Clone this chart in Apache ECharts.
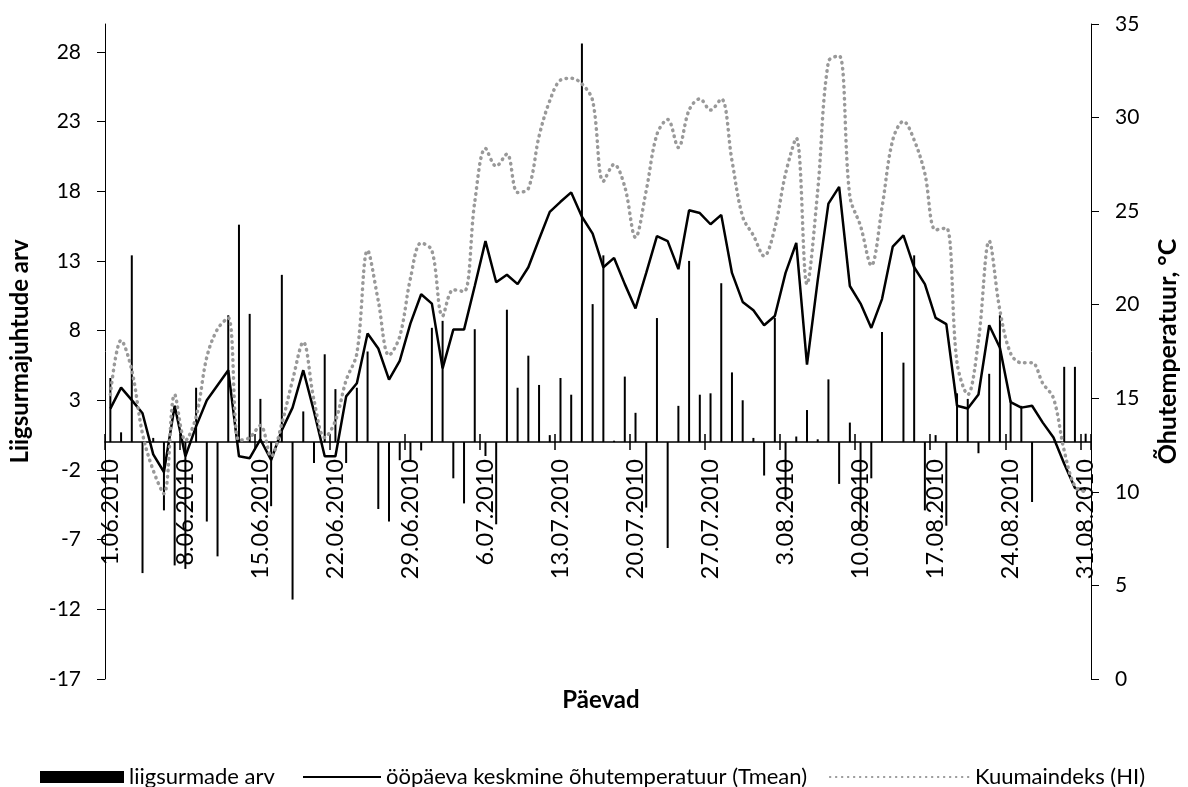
<!DOCTYPE html>
<html><head><meta charset="utf-8">
<script src="https://cdn.jsdelivr.net/npm/echarts@6/dist/echarts.min.js"></script>
<style>html,body{margin:0;padding:0;background:#fff}#c{width:1188px;height:787px}</style>
</head><body><div id="c"></div>
<script>
const categories = [
'1.06.2010','2.06.2010','3.06.2010','4.06.2010','5.06.2010','6.06.2010','7.06.2010','8.06.2010','9.06.2010','10.06.2010',
'11.06.2010','12.06.2010','13.06.2010','14.06.2010','15.06.2010','16.06.2010','17.06.2010','18.06.2010','19.06.2010','20.06.2010',
'21.06.2010','22.06.2010','23.06.2010','24.06.2010','25.06.2010','26.06.2010','27.06.2010','28.06.2010','29.06.2010','30.06.2010',
'1.07.2010','2.07.2010','3.07.2010','4.07.2010','5.07.2010','6.07.2010','7.07.2010','8.07.2010','9.07.2010','10.07.2010',
'11.07.2010','12.07.2010','13.07.2010','14.07.2010','15.07.2010','16.07.2010','17.07.2010','18.07.2010','19.07.2010','20.07.2010',
'21.07.2010','22.07.2010','23.07.2010','24.07.2010','25.07.2010','26.07.2010','27.07.2010','28.07.2010','29.07.2010','30.07.2010',
'31.07.2010','1.08.2010','2.08.2010','3.08.2010','4.08.2010','5.08.2010','6.08.2010','7.08.2010','8.08.2010','9.08.2010',
'10.08.2010','11.08.2010','12.08.2010','13.08.2010','14.08.2010','15.08.2010','16.08.2010','17.08.2010','18.08.2010','19.08.2010',
'20.08.2010','21.08.2010','22.08.2010','23.08.2010','24.08.2010','25.08.2010','26.08.2010','27.08.2010','28.08.2010','29.08.2010',
'30.08.2010','31.08.2010'];

// liigsurmade arv (left axis)
const excessDeaths = [
4.6,0.7,13.4,-9.4,0.3,-4.9,-8.85,-9.1,3.9,-5.7,
-8.2,9.1,15.6,9.2,3.1,-4.6,12.0,-11.3,2.2,-1.5,
6.3,3.8,-1.5,3.9,6.5,-4.8,-5.7,-1.3,-1.3,-0.6,
8.2,8.7,-2.6,-4.4,8.1,-1.0,-5.9,9.5,3.9,6.2,
4.1,0.5,4.6,3.4,28.6,9.9,13.4,0.1,4.7,2.1,
-4.7,8.9,-7.6,2.6,13.0,3.4,3.5,11.4,5.0,3.0,
0.3,-2.4,8.9,-4.2,0.4,2.3,0.2,4.5,-3.0,1.4,
-6.2,-2.6,7.9,0,5.7,13.4,-4.9,0.5,-6.0,3.5,
3.1,-0.8,4.9,9.1,3.0,2.6,-4.3,0,0,5.4,
5.4,0.6];

// ööpäeva keskmine õhutemperatuur (right axis)
const tmean = [
14.45,15.57,14.9,14.2,12.0,11.06,14.6,11.9,13.5,14.9,
15.7,16.5,11.9,11.8,12.8,11.7,13.3,14.5,16.5,14.3,
11.9,11.9,15.1,15.8,18.46,17.66,16.0,17.0,19.0,20.56,
20.06,16.6,18.67,18.67,21.0,23.4,21.2,21.6,21.1,22.0,
23.5,24.96,25.5,26.0,24.7,23.8,22.0,22.5,21.1,19.8,
21.7,23.66,23.4,21.9,25.05,24.9,24.3,24.8,21.7,20.15,
19.7,18.9,19.4,21.7,23.3,16.8,21.3,25.4,26.3,21.0,
20.06,18.76,20.3,23.1,23.7,22.0,21.1,19.3,18.96,14.6,
14.45,15.2,18.9,17.7,14.8,14.5,14.6,13.7,12.9,11.5,
10.2,10.1];

// Kuumaindeks (right axis)
const heatIndex = [
15.2,18.1,16.5,13.1,11.15,9.9,15.2,12.75,14.0,17.2,
18.7,19.3,12.75,12.9,13.55,11.9,13.65,15.96,18.0,14.9,
12.9,13.8,15.96,17.4,22.9,20.2,17.3,18.3,21.4,23.3,
22.9,19.4,20.8,20.7,25.5,28.35,27.4,28.05,26.0,26.2,
29.0,30.9,32.0,32.1,31.8,30.9,26.6,27.5,26.3,23.6,
26.1,29.1,29.9,28.4,30.4,31.0,30.4,31.0,27.7,24.7,
23.7,22.6,24.1,27.0,28.9,21.1,26.1,33.0,33.3,25.8,
24.2,22.1,25.2,28.8,29.8,28.8,27.0,24.0,24.1,16.9,
15.2,18.1,23.4,19.7,17.4,16.9,16.9,15.8,15.0,12.2,
10.3,10.0];

const leftTicks = [-17,-12,-7,-2,3,8,13,18,23,28];
const LEFT_MIN = -17, LEFT_MAX = 30;

const NAME_BARS = 'liigsurmade arv';
const NAME_TMEAN = 'ööpäeva keskmine õhutemperatuur (Tmean)';
const NAME_HI = 'Kuumaindeks (HI)';

const FONT = 'Lato';
const GRID = {left: 104, right: 89, top: 24, bottom: 108};
const plotH = 787 - GRID.top - GRID.bottom;
// place the category axis where the left value axis crosses zero
const zeroOffset = -plotH * (0 - LEFT_MIN) / (LEFT_MAX - LEFT_MIN);

const legendText = {fontFamily: FONT, fontSize: 22, color: '#000'};
const chart = echarts.init(document.getElementById('c'), null, {renderer:'canvas'});
chart.setOption({
  animation: false,
  backgroundColor: '#fff',
  textStyle: {fontFamily: FONT, color: '#000'},
  grid: Object.assign({containLabel: false}, GRID),
  legend: [
    {left: 35, top: 761, itemWidth: 84, itemHeight: 12, textStyle: legendText,
     data: [{name: NAME_BARS, icon: 'rect'}]},
    {left: 297, top: 761, itemWidth: 78, itemHeight: 12, textStyle: legendText,
     data: [{name: NAME_TMEAN, itemStyle: {opacity: 0}}]},
    {right: 38, top: 761, itemWidth: 140, itemHeight: 12, textStyle: legendText,
     data: [{name: NAME_HI, itemStyle: {opacity: 0}}]}
  ],
  graphic: [{type: 'text', x: 601, y: 700, style: {text: 'Päevad', font: 'bold 24px ' + FONT, fill: '#000', textAlign: 'center', textVerticalAlign: 'middle'}}],
  xAxis: [{
    type: 'category', data: categories, boundaryGap: true, position: 'bottom', offset: zeroOffset,
    axisLine: {show: true, onZero: false, lineStyle: {color: '#000', width: 1.5}},
    axisTick: {show: true, interval: 6, length: 8, inside: false, lineStyle: {color: '#000', width: 1.5}},
    axisLabel: {interval: 6, rotate: 90, margin: 17, fontSize: 23.5, color: '#000', fontFamily: FONT},
    splitLine: {show: false}
  }, {
    type: 'category', data: categories, boundaryGap: true, position: 'bottom', offset: zeroOffset,
    axisLine: {show: false, onZero: false},
    axisTick: {show: true, interval: 6, length: 8, inside: true, lineStyle: {color: '#000', width: 1.5}},
    axisLabel: {show: false}, splitLine: {show: false}
  }],
  yAxis: [{
    type: 'value', min: LEFT_MIN, max: LEFT_MAX, interval: 5, position: 'left',
    name: 'Liigsurmajuhtude arv', nameLocation: 'middle', nameGap: 73, nameRotate: 90,
    nameTextStyle: {fontFamily: FONT, fontSize: 24, fontWeight: 'bold', color: '#000'},
    axisLine: {show: true, onZero: false, lineStyle: {color: '#000', width: 1}},
    axisTick: {show: true, inside: false, length: 8, customValues: leftTicks, lineStyle: {color: '#000'}},
    axisLabel: {customValues: leftTicks, margin: 24, fontSize: 21, color: '#000', fontFamily: FONT},
    splitLine: {show: false}
  }, {
    type: 'value', min: 0, max: 35, interval: 5, position: 'right',
    name: 'Õhutemperatuur, °C', nameLocation: 'middle', nameGap: 64, nameRotate: 90,
    nameTextStyle: {fontFamily: FONT, fontSize: 25, fontWeight: 'bold', color: '#000'},
    axisLine: {show: true, onZero: false, lineStyle: {color: '#000', width: 1}},
    axisTick: {show: true, inside: false, length: 8, lineStyle: {color: '#000'}},
    axisLabel: {margin: 24, fontSize: 21, color: '#000', fontFamily: FONT},
    splitLine: {show: false}
  }],
  series: [{
    name: NAME_BARS, type: 'bar', xAxisIndex: 0, yAxisIndex: 0,
    data: excessDeaths, barWidth: 2, itemStyle: {color: '#000'}, z: 2
  }, {
    name: NAME_TMEAN, type: 'line', xAxisIndex: 0, yAxisIndex: 1,
    data: tmean, symbol: 'none', showSymbol: false, itemStyle: {color: '#000'},
    lineStyle: {color: '#000', width: 2.5}, z: 3
  }, {
    name: NAME_HI, type: 'line', xAxisIndex: 0, yAxisIndex: 1,
    data: heatIndex, symbol: 'none', showSymbol: false, smooth: 0.35, itemStyle: {color: '#999'},
    lineStyle: {color: '#999', width: 3.5, type: [0.5, 5.5], cap: 'round'}, z: 3
  }]
});
</script></body></html>
